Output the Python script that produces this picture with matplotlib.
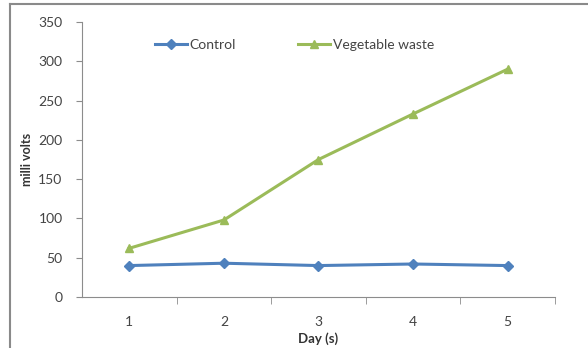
import matplotlib.pyplot as plt
from matplotlib.lines import Line2D

days = [1, 2, 3, 4, 5]
day_labels = ["1", "2", "3", "4", "5"]
control = [40, 43, 40, 42, 40]
vegetable_waste = [62, 98, 175, 233, 290]
y_ticks = [0, 50, 100, 150, 200, 250, 300, 350]

plt.rcParams["font.family"] = ["Lato", "DejaVu Sans"]

fig = plt.figure(figsize=(5.88, 3.48), dpi=100)
ax = fig.add_axes([82 / 588, 1 - 297 / 348, 473 / 588, 275 / 348])

ax.plot(days, control, color="#4F81BD", marker="D", markersize=5, linewidth=2.2,
        label="Control")
ax.plot(days, vegetable_waste, color="#9BBB59", marker="^", markersize=6, linewidth=2.2,
        label="Vegetable waste")

ax.set_xlim(0.5, 5.5)
ax.set_ylim(0, 350)
ax.set_yticks(y_ticks)
ax.set_xticks(days)
ax.set_xticklabels(day_labels)
ax.set_xticks([1.5, 2.5, 3.5, 4.5, 5.5], minor=True)

for side in ["top", "right"]:
    ax.spines[side].set_visible(False)
for side in ["left", "bottom"]:
    ax.spines[side].set_color("#8c8c8c")
    ax.spines[side].set_linewidth(0.8)

ax.tick_params(axis="y", length=4, color="#8c8c8c", labelsize=10, labelcolor="#444444", pad=10)
ax.tick_params(axis="x", which="major", length=0, labelsize=10, labelcolor="#444444", pad=14)
ax.tick_params(axis="x", which="minor", length=5, color="#8c8c8c", direction="out")

ax.set_xlabel("Day (s)", fontsize=9.5, fontweight="bold", color="#333333", labelpad=3)
ax.set_ylabel("milli volts", fontsize=9, fontweight="bold", color="#333333", labelpad=4)

ax.legend(loc="upper center", bbox_to_anchor=(0.449, 0.985), ncol=2, frameon=False,
          fontsize=10, handlelength=2.3, columnspacing=4.5, handletextpad=0.2,
          labelcolor="#444444")

# outer chart border
fig.add_artist(Line2D([10 / 588, 10 / 588], [0, 1 - 4 / 348], transform=fig.transFigure,
                      color="#8a8a8a", linewidth=1.5))
fig.add_artist(Line2D([10 / 588, 1], [1 - 4 / 348, 1 - 4 / 348], transform=fig.transFigure,
                      color="#8a8a8a", linewidth=1.5))

fig.savefig("out.png", dpi=100)
